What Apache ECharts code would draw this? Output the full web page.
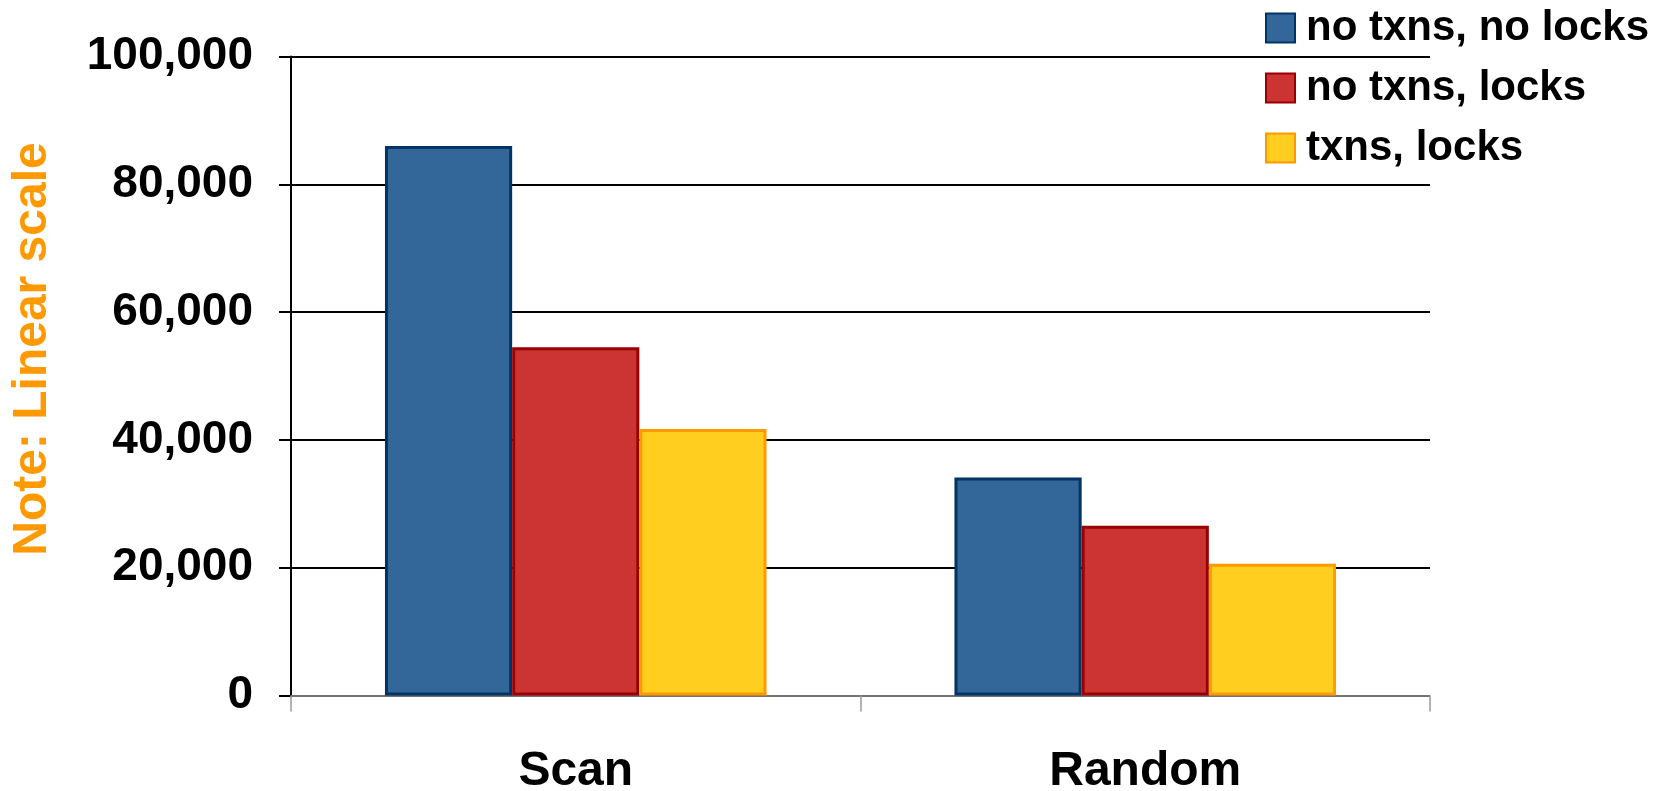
<!DOCTYPE html>
<html>
<head>
<meta charset="utf-8">
<script src="https://cdn.jsdelivr.net/npm/echarts@6/dist/echarts.min.js"></script>
<style>
html,body{margin:0;padding:0;background:#fff;}
#chart{width:1670px;height:791px;}
</style>
</head>
<body>
<div id="chart"></div>
<script>
const categories = ['Scan', 'Random'];
const seriesNames = ['no txns, no locks', 'no txns, locks', 'txns, locks'];
const noTxnsNoLocks = [86000, 34100];
const noTxnsLocks = [54500, 26550];
const txnsLocks = [41700, 20600];
const yTicks = [0, 20000, 40000, 60000, 80000, 100000];
const axisNote = 'Note: Linear scale';

const fills = ['#336699', '#CC3333', '#FFCE1F'];
const borders = ['#003366', '#990000', '#FF9900'];
const values = [noTxnsNoLocks, noTxnsLocks, txnsLocks];
const FONT = '"Liberation Sans", Arial, sans-serif';

const chart = echarts.init(document.getElementById('chart'), null, {renderer: 'canvas'});
chart.setOption({
  animation: false,
  backgroundColor: '#ffffff',
  grid: {left: 291, right: 240, top: 56.5, bottom: 95.5, containLabel: false, outerBoundsMode: 'none'},
  legend: {
    orient: 'vertical',
    left: 1260, top: 2,
    itemWidth: 29, itemHeight: 29,
    itemGap: 18,
    icon: 'rect',
    data: seriesNames,
    textStyle: {fontFamily: FONT, fontWeight: 'bold', fontSize: 42, color: '#000', lineHeight: 42, padding: [0, 0, 0, 6]}
  },
  xAxis: {
    type: 'category',
    data: categories,
    axisLine: {lineStyle: {color: '#999999', width: 1.5}},
    axisTick: {show: true, length: 16, lineStyle: {color: '#999999', width: 1.5}},
    axisLabel: {fontFamily: FONT, fontWeight: 'bold', fontSize: 48, lineHeight: 48, color: '#000', margin: 52},
    splitLine: {show: false}
  },
  yAxis: {
    type: 'value',
    min: yTicks[0], max: yTicks[yTicks.length - 1], interval: 20000,
    axisLine: {show: true, lineStyle: {color: '#000', width: 2}},
    axisTick: {show: true, length: 12, lineStyle: {color: '#000', width: 2}},
    axisLabel: {
      fontFamily: FONT, fontWeight: 'bold', fontSize: 46, color: '#000', margin: 38,
      formatter: v => v.toLocaleString('en-US')
    },
    splitLine: {show: true, lineStyle: {color: '#000', width: 2}}
  },
  graphic: [{
    type: 'text',
    x: 33, y: 349,
    rotation: Math.PI / 2,
    style: {
      text: axisNote,
      font: 'bold 48px ' + FONT,
      fill: '#FF9900',
      textAlign: 'center',
      textVerticalAlign: 'middle'
    }
  }],
  series: seriesNames.map((name, i) => ({
    name: name,
    type: 'bar',
    data: values[i],
    barGap: '0%',
    barCategoryGap: '33%',
    itemStyle: {color: fills[i], borderColor: borders[i], borderWidth: 3}
  }))
});
</script>
</body>
</html>
